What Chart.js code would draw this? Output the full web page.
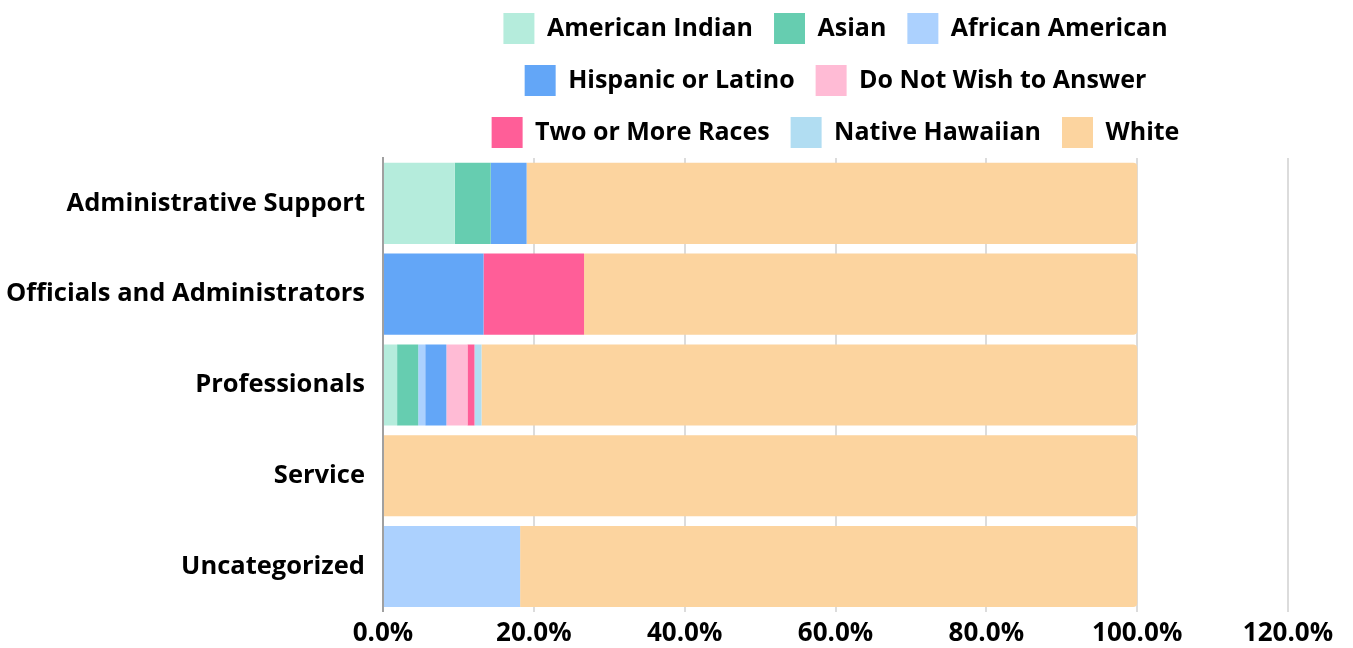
<!DOCTYPE html>
<html>
<head>
<meta charset="utf-8">
<script src="https://cdn.jsdelivr.net/npm/chart.js@4"></script>
<style>
  html, body { margin: 0; padding: 0; background: #fff; }
  #wrap { width: 1353px; height: 648px; }
</style>
</head>
<body>
<div id="wrap"><canvas id="graph"></canvas></div>
<script>
// categories (job groups)
var categories = ['Administrative Support', 'Officials and Administrators', 'Professionals', 'Service', 'Uncategorized'];

// share of each group, in percent
var americanIndian = [9.52, 0, 1.87, 0, 0];
var asian = [4.76, 0, 2.80, 0, 0];
var africanAmerican = [0, 0, 0.93, 0, 18.18];
var hispanic = [4.76, 13.33, 2.80, 0, 0];
var noAnswer = [0, 0, 2.80, 0, 0];
var twoOrMore = [0, 13.33, 0.93, 0, 0];
var nativeHawaiian = [0, 0, 0.93, 0, 0];
var white = [80.96, 73.34, 86.94, 100, 81.82];

var xTicks = [0, 20, 40, 60, 80, 100, 120];

var fontName = 'Open Sans';

function makeSet(label, data, color) {
    return {
        label: label,
        data: data,
        backgroundColor: color,
        borderColor: color,
        borderWidth: 0,
        borderRadius: 4,
        barPercentage: 1,
        categoryPercentage: 0.893
    };
}

var ctx = document.getElementById('graph').getContext('2d');
var graph = new Chart(ctx, {
    type: 'bar',
    data: {
        labels: categories,
        datasets: [
            makeSet('American Indian', americanIndian, '#b5ecdc'),
            makeSet('Asian', asian, '#66cdb0'),
            makeSet('African American', africanAmerican, '#acd1fe'),
            makeSet('Hispanic or Latino', hispanic, '#63a6f7'),
            makeSet('Do Not Wish to Answer', noAnswer, '#ffbbd5'),
            makeSet('Two or More Races', twoOrMore, '#ff5e98'),
            makeSet('Native Hawaiian', nativeHawaiian, '#b1ddf2'),
            makeSet('White', white, '#fcd49f')
        ]
    },
    options: {
        indexAxis: 'y',
        responsive: true,
        maintainAspectRatio: false,
        animation: false,
        layout: { padding: { left: 0, right: 65, top: -8, bottom: -7 } },
        plugins: {
            tooltip: { enabled: false },
            legend: {
                position: 'top',
                fullSize: false,
                labels: {
                    boxWidth: 31,
                    boxHeight: 31,
                    padding: 21,
                    color: '#000',
                    font: { family: fontName, size: 25, weight: 'bold' }
                }
            }
        },
        scales: {
            x: {
                stacked: true,
                min: 0,
                max: 120,
                afterBuildTicks: function (scale) {
                    scale.ticks = xTicks.map(function (v) { return { value: v }; });
                },
                grid: { color: '#dcdcdc', lineWidth: 2, drawTicks: false },
                border: { display: false },
                ticks: {
                    padding: 6,
                    color: '#000',
                    font: { family: fontName, size: 26, weight: 'bold' },
                    callback: function (v) { return Number(v).toFixed(1) + '%'; }
                }
            },
            y: {
                stacked: true,
                grid: { display: false, drawTicks: false },
                border: { display: true, color: '#a0a0a0', width: 2 },
                afterFit: function (scale) { scale.width = 383; },
                ticks: {
                    padding: 18,
                    color: '#000',
                    font: { family: fontName, size: 25.5, weight: 'bold' }
                }
            }
        }
    }
});
</script>
</body>
</html>
